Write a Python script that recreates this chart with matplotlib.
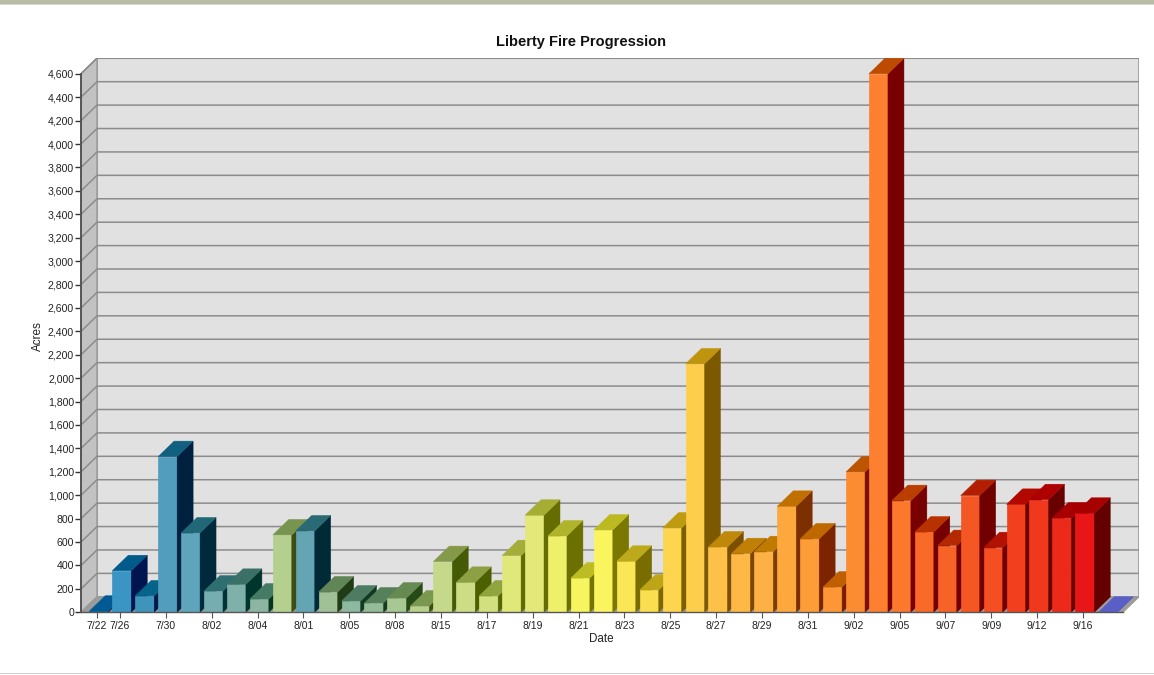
import matplotlib
matplotlib.use('Agg')
import numpy as np
import matplotlib.pyplot as plt
from matplotlib.patches import Polygon, Rectangle

plt.rcParams['font.family'] = ['Liberation Sans', 'DejaVu Sans']

# acres per bar
acres = [10, 355, 140, 1330, 678, 182, 239, 114, 661, 695, 174, 97, 80, 122, 54,
         433, 256, 140, 484, 829, 652, 293, 703, 436, 191, 720, 2122, 558, 501, 518,
         905, 627, 216, 1199, 4600, 954, 686, 570, 997, 552, 922, 962, 806, 846, 0]

# only every second bar has a label (plus the first two)
tick_pos = [0, 1, 3, 5, 7, 9, 11, 13, 15, 17, 19, 21, 23, 25, 27, 29, 31, 33, 35, 37, 39, 41, 43]
tick_labels = ['7/22', '7/26', '7/30', '8/02', '8/04', '8/01', '8/05', '8/08', '8/15', '8/17',
               '8/19', '8/21', '8/23', '8/25', '8/27', '8/29', '8/31', '9/02', '9/05', '9/07',
               '9/09', '9/12', '9/16']
y_ticks = list(range(0, 4601, 200))

front = ['#0a6aa5', '#3a94c4', '#3f94bc', '#529cbe', '#5ea5bb', '#75adb1', '#7fb0aa', '#8cb5a4',
         '#b5cf8f', '#64a5b4', '#a0c096', '#8cb9a0', '#95bc98', '#a8c893', '#b9d08b', '#c6d88a',
         '#ccdd85', '#d2e080', '#e0e87a', '#e4e878', '#eff06a', '#f6f560', '#faf55e', '#fbe655',
         '#fbde50', '#fdd54e', '#fdcd4c', '#fdc048', '#fdb845', '#fdb044', '#fda83e', '#fd9d38',
         '#fc9636', '#fc8c32', '#fc8030', '#fb782c', '#f96a28', '#f76226', '#f55724', '#f44e22',
         '#f2401e', '#f0381c', '#ec2a1a', '#e81616', '#8080f0']
top = ['#005a94', '#005a8a', '#06648a', '#126080', '#206878', '#2f6f72', '#3b7068', '#457a64',
       '#789550', '#2a6a75', '#628558', '#4e7c62', '#55805a', '#668a52', '#7b9850', '#84994a',
       '#8da043', '#90a53e', '#a3ad38', '#a5ad33', '#b0b42a', '#bcbd22', '#bdb920', '#bcaa1a',
       '#bea518', '#be9b10', '#bf9510', '#c08808', '#c07f05', '#c07a00', '#c07000', '#c06800',
       '#c05f00', '#bd5500', '#be4a00', '#ba3e00', '#b83200', '#b42a00', '#b41e00', '#b21200',
       '#b20800', '#ae0000', '#a80000', '#a60000', '#5a5fc8']
side = ['#001a50', '#00144f', '#001a45', '#002040', '#00293c', '#003236', '#00352c', '#06351f',
        '#3c4f10', '#002a36', '#203c15', '#103a20', '#153c1a', '#254a15', '#3a5008', '#455a05',
        '#4d6000', '#556500', '#606a00', '#656c00', '#6c7000', '#747400', '#7a7800', '#7a6d00',
        '#7c6800', '#7c6000', '#7c5800', '#7c4e00', '#7c4600', '#7c3e00', '#7c2f00', '#7c2400',
        '#7c1c00', '#7c1000', '#780000', '#780000', '#760000', '#720000', '#700000', '#6e0000',
        '#6c0000', '#680000', '#660000', '#640000', '#2020a0']

W, H = 1154, 675
fig = plt.figure(figsize=(W / 100, H / 100), dpi=100, facecolor='white')

# strip of the page header at the top and the rule at the bottom
fig.patches.append(Rectangle((0, 1 - 4 / H), 1, 4 / H, transform=fig.transFigure, fc='#b9bda6', lw=0))
fig.patches.append(Rectangle((0, 1 - 5 / H), 1, 1 / H, transform=fig.transFigure, fc='#d8d8d8', lw=0))
fig.patches.append(Rectangle((0, 1 - 674 / H), 1, 1 / H, transform=fig.transFigure, fc='#cccccc', lw=0))

# axes run from the front-left corner to the back-right corner of the box
x0, x1, y0, y1 = 81, 1139, 612.3, 58
ax = fig.add_axes([x0 / W, 1 - y0 / H, (x1 - x0) / W, (y0 - y1) / H])
step = 22.93
ax.set_xlim((x0 - 97) / step, (x1 - 97) / step)
ax.set_ylim(0, (y0 - y1) / 0.11707)
ax.patch.set_visible(False)
for s in ax.spines.values():
    s.set_visible(False)

dx = 16 / step
dy = 15.5 / 0.11707
xl, xr = ax.get_xlim()
yt = ax.get_ylim()[1]
back_l = xl + dx
front_r = xr - dx

# box: back wall, left wall, floor
ax.add_patch(Rectangle((back_l, dy), xr - back_l, yt - dy, fc='#e1e1e1', ec='#999999', lw=1.2, zorder=1))
ax.add_patch(Polygon([(xl, 0), (back_l, dy), (back_l, yt), (xl, yt - dy)], fc='#c2c2c2', ec='#999999', lw=1, zorder=1))
ax.add_patch(Polygon([(xl, 0), (back_l, dy), (xr, dy), (front_r, 0)], fc='#9c9c9c', ec='#999999', lw=0.8, zorder=1))
for v in y_ticks[1:]:
    ax.plot([xl, back_l, xr], [v, v + dy, v + dy], color='#8c8c8c', lw=1.1, zorder=2, solid_joinstyle='miter')

# bars, painted left to right so later ones sit over the earlier side faces
bw = 19 / step
shift = 0.08
for i, v in enumerate(acres):
    l = i + shift - bw / 2
    r = l + bw
    z = 3 + i * 0.01
    ax.bar(i + shift, v, width=bw, color=front[i], edgecolor=front[i], lw=0.5, zorder=z)
    ax.add_patch(Polygon([(r, 0), (r + dx, dy), (r + dx, v + dy), (r, v)], fc=side[i], ec=side[i], lw=0.3, zorder=z))
    ax.add_patch(Polygon([(l, v), (l + dx, v + dy), (r + dx, v + dy), (r, v)], fc=top[i], ec=top[i], lw=0.3, zorder=z))

# dark front edges of the box
ax.plot([xl, xl], [0, yt - dy], color='#555555', lw=1.4, zorder=5, clip_on=False)
ax.plot([xl, front_r], [0, 0], color='#555555', lw=1.0, zorder=5, clip_on=False)

ax.set_yticks(y_ticks)
ax.set_yticklabels([f'{v:,}' for v in y_ticks])
ax.set_xticks(tick_pos)
ax.set_xticklabels(tick_labels)
ax.tick_params(axis='y', length=4, width=1, color='#333333', labelcolor='#222222', labelsize=7.6, pad=1)
ax.tick_params(axis='x', length=4, width=0.8, color='#555555', labelcolor='#222222', labelsize=7.5, pad=2.5)

fig.text(581 / W, 1 - 42 / H, 'Liberty Fire Progression', ha='center', va='center', fontsize=10.5, fontweight='bold', color='#111111')
fig.text(601 / W, 1 - 639 / H, 'Date', ha='center', va='center', fontsize=8.4, color='#222222')
fig.text(38 / W, 1 - 336 / H, 'Acres', ha='center', va='center', rotation=90, fontsize=8.4, color='#222222')

fig.savefig('out.png', dpi=100)
